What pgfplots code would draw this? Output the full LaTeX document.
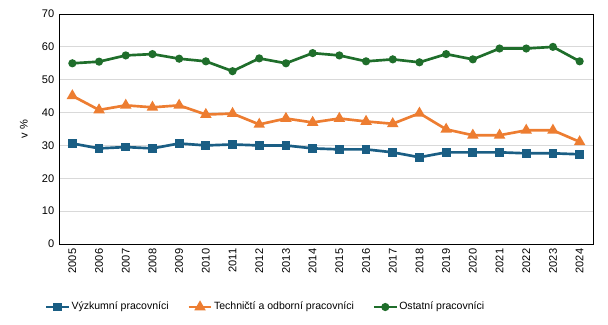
\documentclass[border=0pt]{standalone}
\usepackage{pgfplots}
\pgfplotsset{compat=1.18}
\usepackage{fontspec}
\setmainfont{Liberation Sans}
\definecolor{cblue}{HTML}{1A5E84}
\definecolor{corange}{HTML}{ED7D31}
\definecolor{cgreen}{HTML}{1F6E2B}
\begin{document}
\begin{tikzpicture}
\useasboundingbox (-44.25pt,-60.75pt) rectangle (411.75pt,183pt);
\begin{axis}[
scale only axis,
width=400.5pt, height=172.5pt,
xmin=-0.5, xmax=19.5,
ymin=0, ymax=70,
ytick={0,10,...,70},
xtick={0,...,19},
xticklabels={2005,2006,2007,2008,2009,2010,2011,2012,2013,2014,2015,2016,2017,2018,2019,2020,2021,2022,2023,2024},
x tick label style={rotate=90, anchor=east, font=\fontsize{8.3}{10}\selectfont},
y tick label style={font=\fontsize{8.3}{10}\selectfont},
/pgf/number format/assume math mode=true,
major tick length=0pt,
ymajorgrids,
grid style={color=black!15, line width=0.6pt},
axis line style={line width=0.6pt},
ylabel={v \%},
ylabel style={font=\fontsize{8.3}{10}\selectfont, at={(rel axis cs:-0.066,0.5)}, anchor=center},
legend style={draw=none, at={(-0.027,-0.274)}, anchor=west, legend columns=3,
  font=\fontsize{7.9}{10}\selectfont, inner sep=0pt,
  nodes={inner xsep=1pt},
  /tikz/every even column/.append style={column sep=13pt}},
legend image code/.code={
  \draw[#1, mark=none] (0pt,0pt) -- (17pt,0pt);
  \draw[#1, only marks] plot coordinates {(8.5pt,0pt)};
},
legend cell align={left},
]
\addplot[color=cblue, line width=2pt, mark=square*, mark size=2.3pt, mark options={solid}]
coordinates {
(0,30.6)(1,29.1)(2,29.5)(3,29.1)(4,30.6)(5,30.0)(6,30.3)(7,30.0)(8,30.0)(9,29.1)
(10,28.8)(11,28.8)(12,27.9)(13,26.4)(14,27.9)(15,27.9)(16,27.9)(17,27.6)(18,27.6)(19,27.3)
};
\addlegendentry{Výzkumní pracovníci}

\addplot[color=corange, line width=2pt, mark=triangle*, mark size=3pt, mark options={solid}]
coordinates {
(0,45.1)(1,40.8)(2,42.2)(3,41.6)(4,42.2)(5,39.4)(6,39.7)(7,36.4)(8,38.2)(9,37.0)
(10,38.2)(11,37.3)(12,36.6)(13,39.8)(14,34.9)(15,33.1)(16,33.1)(17,34.6)(18,34.6)(19,31.1)
};
\addlegendentry{Techničtí a odborní pracovníci}

\addplot[color=cgreen, line width=2pt, mark=*, mark size=2pt, mark options={solid}]
coordinates {
(0,55.0)(1,55.5)(2,57.4)(3,57.8)(4,56.4)(5,55.6)(6,52.6)(7,56.5)(8,55.0)(9,58.1)
(10,57.4)(11,55.6)(12,56.2)(13,55.3)(14,57.8)(15,56.2)(16,59.5)(17,59.5)(18,60.0)(19,55.6)
};
\addlegendentry{Ostatní pracovníci}
\end{axis}
\end{tikzpicture}
\end{document}
